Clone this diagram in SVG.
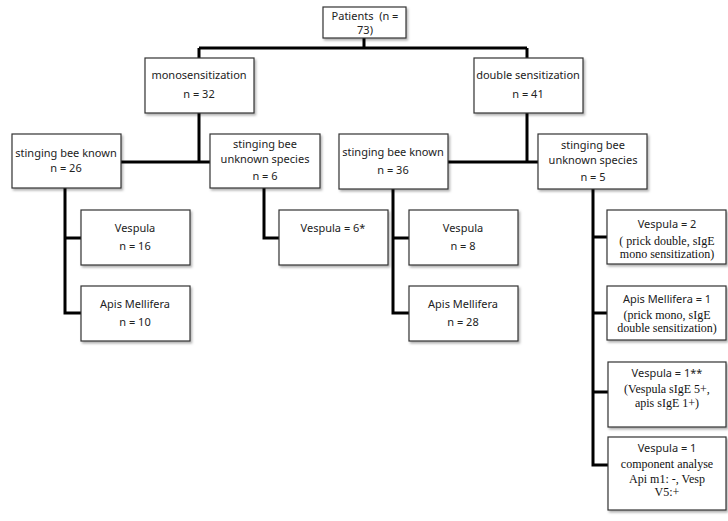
<svg xmlns="http://www.w3.org/2000/svg" width="728" height="521" viewBox="0 0 728 521">
<defs>
<filter id="sh" x="-10%" y="-10%" width="130%" height="140%">
<feDropShadow dx="1.5" dy="2" stdDeviation="1.2" flood-color="#000" flood-opacity="0.3"/>
</filter>
</defs>
<style>
.box{fill:#fff;stroke:#333;stroke-width:1.2;filter:url(#sh)}
.s{font-family:"Noto Sans","Open Sans",sans-serif;font-size:11px;fill:#222;text-anchor:middle}
.r{font-family:"Liberation Serif","Times New Roman",serif;font-size:12px;fill:#111;text-anchor:middle}
.c{fill:none;stroke:#000;stroke-width:3}
</style>
<rect width="728" height="521" fill="#fff"/>
<g id="connectors">
<path class="c" d="M364 37V48M199 48H527M199 48V58M527 48V58"/>
<path class="c" d="M199 113V162M121 162H210"/>
<path class="c" d="M527 113V162M448 162H538"/>
<path class="c" d="M65 188V313H81M65 238H81"/>
<path class="c" d="M264 188V238H279"/>
<path class="c" d="M393 189V313H409M393 238H409"/>
<path class="c" d="M593 189V465H608M593 237H607M593 313H607M593 392H608"/>
</g>
<g id="patients"><rect class="box" x="323" y="7" width="83" height="31"/>
<text class="s" x="365" y="20" xml:space="preserve">Patients  (n =</text><text class="s" x="365" y="34">73)</text></g>
<g id="mono"><rect class="box" x="145" y="58" width="109" height="55"/>
<text class="s" x="199" y="79">monosensitization</text><text class="s" x="199" y="98">n = 32</text></g>
<g id="double"><rect class="box" x="474" y="58" width="109" height="55"/>
<text class="s" x="528" y="79">double sensitization</text><text class="s" x="528" y="98">n = 41</text></g>
<g id="known26"><rect class="box" x="12" y="134" width="109" height="54"/>
<text class="s" x="66" y="157">stinging bee known</text><text class="s" x="66" y="172">n = 26</text></g>
<g id="unknown6"><rect class="box" x="210" y="134" width="110" height="54"/>
<text class="s" x="265" y="148">stinging bee</text><text class="s" x="265" y="163">unknown species</text><text class="s" x="265" y="180">n = 6</text></g>
<g id="known36"><rect class="box" x="339" y="134" width="109" height="55"/>
<text class="s" x="393" y="156">stinging bee known</text><text class="s" x="393" y="174">n = 36</text></g>
<g id="unknown5"><rect class="box" x="538" y="134" width="109" height="55"/>
<text class="s" x="593" y="149">stinging bee</text><text class="s" x="593" y="164">unknown species</text><text class="s" x="593" y="181">n = 5</text></g>
<g id="vespula16"><rect class="box" x="81" y="210" width="109" height="55"/>
<text class="s" x="135" y="232">Vespula</text><text class="s" x="135" y="250">n = 16</text></g>
<g id="apis10"><rect class="box" x="81" y="286" width="109" height="55"/>
<text class="s" x="135" y="308">Apis Mellifera</text><text class="s" x="135" y="326">n = 10</text></g>
<g id="vespula6"><rect class="box" x="279" y="210" width="109" height="55"/>
<text class="s" x="333" y="232">Vespula = 6*</text></g>
<g id="vespula8"><rect class="box" x="409" y="210" width="109" height="55"/>
<text class="s" x="463" y="232">Vespula</text><text class="s" x="463" y="250">n = 8</text></g>
<g id="apis28"><rect class="box" x="409" y="286" width="109" height="55"/>
<text class="s" x="463" y="308">Apis Mellifera</text><text class="s" x="463" y="326">n = 28</text></g>
<g id="vespula2"><rect class="box" x="607" y="210" width="119" height="54"/>
<text class="s" x="667" y="228">Vespula = 2</text><text class="r" x="667" y="245">( prick double, sIgE</text><text class="r" x="667" y="258">mono sensitization)</text></g>
<g id="apis1"><rect class="box" x="607" y="286" width="119" height="54"/>
<text class="s" x="667" y="303">Apis Mellifera = 1</text><text class="r" x="667" y="319">(prick mono, sIgE</text><text class="r" x="667" y="332">double sensitization)</text></g>
<g id="vespula1a"><rect class="box" x="608" y="362" width="118" height="65"/>
<text class="s" x="667" y="377">Vespula = 1**</text><text class="r" x="667" y="393">(Vespula sIgE 5+,</text><text class="r" x="667" y="407">apis sIgE 1+)</text></g>
<g id="vespula1b"><rect class="box" x="608" y="437" width="118" height="73"/>
<text class="s" x="667" y="452">Vespula = 1</text><text class="r" x="667" y="468">component analyse</text><text class="r" x="667" y="483">Api m1: -, Vesp</text><text class="r" x="667" y="496">V5:+</text></g>
</svg>
